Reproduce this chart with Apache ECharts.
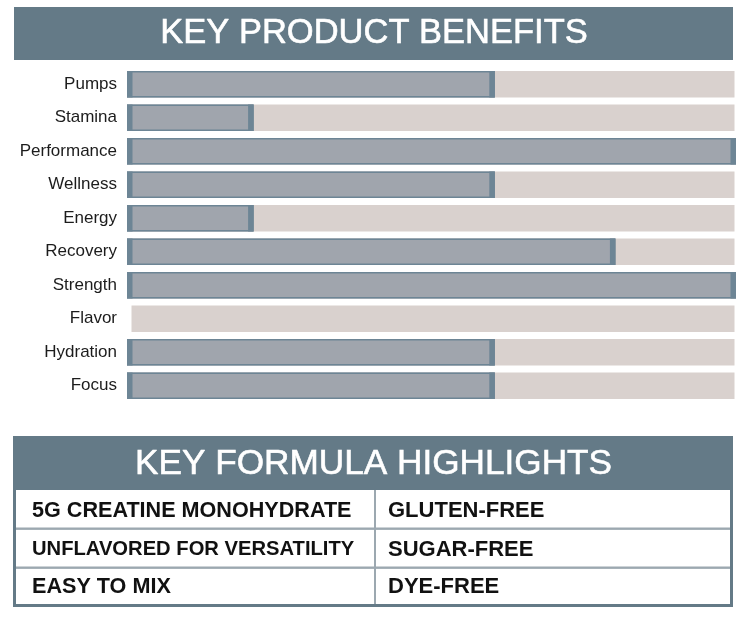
<!DOCTYPE html>
<html>
<head>
<meta charset="utf-8">
<script src="https://cdn.jsdelivr.net/npm/echarts@6/dist/echarts.min.js"></script>
<style>
html,body{margin:0;padding:0;background:#ffffff;}
#chart{width:748px;height:630px;}
</style>
</head>
<body>
<div id="chart"></div>
<script>
const benefitsTitle = 'KEY PRODUCT BENEFITS';
const categories = ['Pumps','Stamina','Performance','Wellness','Energy','Recovery','Strength','Flavor','Hydration','Focus'];
const values = [3,1,5,3,1,4,5,0,3,3];
const maxValue = 5;
const highlightsTitle = 'KEY FORMULA HIGHLIGHTS';
const highlightsLeft = ['5G CREATINE MONOHYDRATE','UNFLAVORED FOR VERSATILITY','EASY TO MIX'];
const highlightsRight = ['GLUTEN-FREE','SUGAR-FREE','DYE-FREE'];

const SLATE = '#647a87';
const EDGE = '#6d8595';
const FILL = '#a0a5ad';
const BG = '#d9d1ce';
const LINE = '#9ca8b0';

const chart = echarts.init(document.getElementById('chart'), null, {renderer:'canvas'});

const boxL = 13, boxR = 733, boxT = 436, headB = 490, boxB = 607, colX = 375;
const rowEdges = [490, 528.5, 567.5, 607];
const leftSizes = [21.6, 20.2, 21.6];
const graphics = [];
graphics.push({type:'rect', shape:{x:14,y:7,width:719,height:53}, style:{fill:SLATE}});
graphics.push({type:'text', x:374, y:33.5, style:{text:benefitsTitle, fill:'#ffffff', stroke:'#ffffff', lineWidth:0.6, font:'34.5px "Liberation Sans", Arial, sans-serif', align:'center', verticalAlign:'middle'}});
graphics.push({type:'rect', shape:{x:boxL,y:boxT,width:boxR-boxL,height:boxB-boxT}, style:{fill:SLATE}});
graphics.push({type:'text', x:373.5, y:464, style:{text:highlightsTitle, fill:'#ffffff', stroke:'#ffffff', lineWidth:0.6, font:'35.2px "Liberation Sans", Arial, sans-serif', align:'center', verticalAlign:'middle'}});
for (let r = 0; r < 3; r++) {
  const y0 = rowEdges[r], y1 = rowEdges[r+1];
  const top = y0 + (r === 0 ? 0 : 1);
  const bottom = y1 - (r === 2 ? 3 : 0);
  graphics.push({type:'rect', shape:{x:boxL+3, y:top, width:colX-boxL-3-1, height:bottom-top}, style:{fill:'#ffffff'}});
  graphics.push({type:'rect', shape:{x:colX+1, y:top, width:boxR-3-colX-1, height:bottom-top}, style:{fill:'#ffffff'}});
  if (r > 0) {
    graphics.push({type:'rect', shape:{x:boxL+3, y:y0-1, width:boxR-boxL-6, height:2}, style:{fill:LINE}});
  }
  const cy = (y0 + y1) / 2 + 1.5 - (r === 2 ? 1.5 : 0);
  graphics.push({type:'text', x:32, y:cy, style:{text:highlightsLeft[r], fill:'#111111', font:'bold ' + leftSizes[r] + 'px "Liberation Sans", Arial, sans-serif', align:'left', verticalAlign:'middle'}});
  graphics.push({type:'text', x:388, y:cy, style:{text:highlightsRight[r], fill:'#111111', font:'bold 22px "Liberation Sans", Arial, sans-serif', align:'left', verticalAlign:'middle'}});
}
graphics.push({type:'rect', shape:{x:colX-1, y:headB, width:2, height:boxB-3-headB}, style:{fill:LINE}});

const option = {
  animation:false,
  backgroundColor:'#ffffff',
  grid:{left:131.5, right:13.5, top:67.5, height:335, containLabel:false},
  xAxis:{type:'value', min:0, max:maxValue, show:false},
  yAxis:{type:'category', data:categories, inverse:true,
    axisLine:{show:false}, axisTick:{show:false}, splitLine:{show:false},
    axisLabel:{color:'#1c1c1c', fontSize:17, fontFamily:'"Liberation Sans", Arial, sans-serif', margin:14.5}},
  series:[
    {type:'bar', barWidth:26.5, silent:true,
     showBackground:true, backgroundStyle:{color:BG},
     itemStyle:{color:'rgba(0,0,0,0)'},
     data: values.map(() => 0)},
    {type:'custom', silent:true, z:3,
     renderItem:function(params, api){
       const v = api.value(0);
       if (!v) return null;
       const p0 = api.coord([0, api.value(1)]);
       const p1 = api.coord([v, api.value(1)]);
       const h = 26.5;
       const xl = p0[0] - 4.5, xr = p1[0] + 1.5, yt = p0[1] - h / 2;
       return {type:'group', children:[
         {type:'rect', shape:{x:xl, y:yt, width:xr-xl, height:h}, style:{fill:FILL}},
         {type:'rect', shape:{x:xl+0.8, y:yt+0.8, width:xr-xl-1.6, height:h-1.6}, style:{fill:null, stroke:EDGE, lineWidth:1.6}},
         {type:'rect', shape:{x:xl, y:yt, width:5.5, height:h}, style:{fill:EDGE}},
         {type:'rect', shape:{x:xr-5.5, y:yt, width:5.5, height:h}, style:{fill:EDGE}}
       ]};
     },
     encode:{x:0, y:1},
     data: values.map((v,i) => [v, i])}
  ],
  graphic: graphics
};
chart.setOption(option);
</script>
</body>
</html>
